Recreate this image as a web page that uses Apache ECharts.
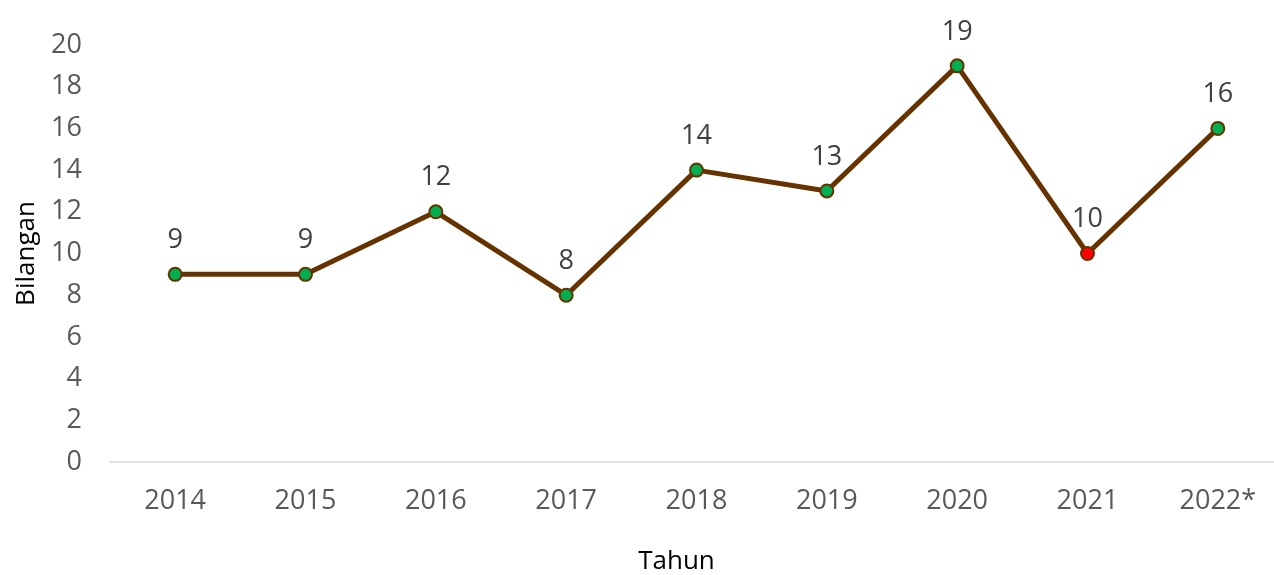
<!DOCTYPE html>
<html>
<head>
<meta charset="utf-8">
<script src="https://cdn.jsdelivr.net/npm/echarts@6/dist/echarts.min.js"></script>
<style>
  html, body { margin: 0; padding: 0; background: #fff; }
  #chart { width: 1274px; height: 575px; }
</style>
</head>
<body>
<div id="chart"></div>
<script>
// Jumlah kes per tahun
const years = ['2014', '2015', '2016', '2017', '2018', '2019', '2020', '2021', '2022*'];
const counts = [9, 9, 12, 8, 14, 13, 19, 10, 16];
// Tahun yang ditanda merah
const highlightYears = ['2021'];
const yTicks = { min: 0, max: 20, interval: 2 };

const FONT = '"Open Sans", "Liberation Sans", sans-serif';
const LINE = '#663300';

const chart = echarts.init(document.getElementById('chart'), null, { renderer: 'canvas' });

const points = counts.map((v, i) => ({
  value: v,
  itemStyle: { color: highlightYears.includes(years[i]) ? '#ff0000' : '#00b050' }
}));

chart.setOption({
  animation: false,
  grid: {
    left: 110, top: 45, bottom: 113, width: 1173,
    containLabel: false,
    outerBoundsMode: 'none'
  },
  xAxis: {
    type: 'category',
    data: years,
    boundaryGap: true,
    name: 'Tahun',
    nameLocation: 'middle',
    nameGap: 87,
    nameTextStyle: { fontFamily: FONT, fontSize: 26, color: '#000', padding: [0, 40, 0, 0] },
    axisLine: { lineStyle: { color: '#d9d9d9', width: 1.5 } },
    axisTick: { show: false },
    axisLabel: { fontFamily: FONT, fontSize: 27, color: '#595959', margin: 26 }
  },
  yAxis: {
    type: 'value',
    min: yTicks.min,
    max: yTicks.max,
    interval: yTicks.interval,
    name: 'Bilangan',
    nameLocation: 'middle',
    nameGap: 70,
    nameTextStyle: { fontFamily: FONT, fontSize: 26, color: '#000' },
    axisLine: { show: false },
    axisTick: { show: false },
    splitLine: { show: false },
    axisLabel: { fontFamily: FONT, fontSize: 27, color: '#595959', margin: 28 }
  },
  series: [{
    type: 'line',
    data: points,
    symbol: 'circle',
    symbolSize: 13,
    lineStyle: { color: LINE, width: 5 },
    itemStyle: { borderColor: LINE, borderWidth: 2 },
    label: {
      show: true,
      position: 'top',
      distance: 13,
      fontFamily: FONT,
      fontSize: 27,
      color: '#404040'
    }
  }]
});
</script>
</body>
</html>
